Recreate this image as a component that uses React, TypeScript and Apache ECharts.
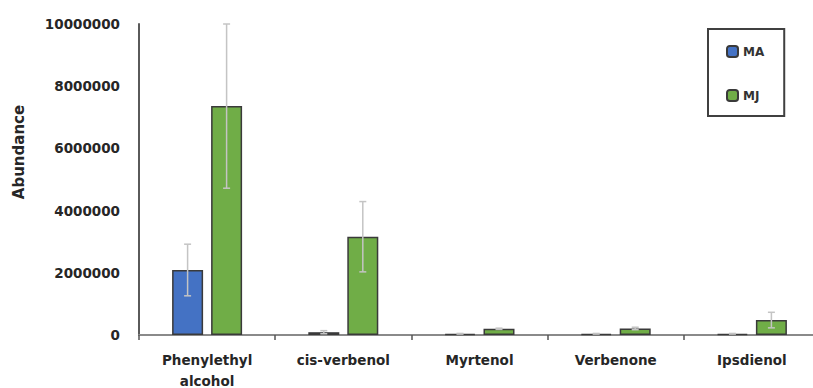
import React, { useEffect, useRef } from "react";
import * as echarts from "echarts";

const categories = ["Phenylethyl alcohol", "cis-verbenol", "Myrtenol", "Verbenone", "Ipsdienol"];
const maValues = [2090000, 90000, 40000, 40000, 40000];
const maErrors = [830000, 50000, 10000, 10000, 10000];
const mjValues = [7360000, 3160000, 200000, 210000, 480000];
const mjErrors = [2640000, 1130000, 20000, 40000, 250000];
const yTicks = { min: 0, max: 10000000, interval: 2000000 };
const seriesNames = ["MA", "MJ"];

const FONT = "DejaVu Sans";
const BAR_W = 31;
const BAR_GAP = 8;

export default function App() {
  const ref = useRef<HTMLDivElement>(null);
  useEffect(() => {
    const chart = echarts.init(ref.current!, null, { renderer: "svg" });
    const offsets = [-(BAR_W + BAR_GAP) / 2, (BAR_W + BAR_GAP) / 2];
    const errSeries = (vals: number[], errs: number[], idx: number) => ({
      type: "custom",
      silent: true,
      z: 5,
      data: vals.map((v, i) => [i, v, errs[i]]),
      renderItem: (params: any, api: any) => {
        const i = api.value(0);
        const v = api.value(1);
        const e = api.value(2);
        const top = api.coord([i, v + e]);
        const bot = api.coord([i, Math.max(0, v - e)]);
        const x = top[0] + offsets[idx];
        const cap = 3.5;
        const style = { stroke: "#c4c4c4", lineWidth: 1.5 };
        return {
          type: "group",
          children: [
            { type: "line", shape: { x1: x, y1: top[1], x2: x, y2: bot[1] }, style },
            { type: "line", shape: { x1: x - cap, y1: top[1], x2: x + cap, y2: top[1] }, style },
            { type: "line", shape: { x1: x - cap, y1: bot[1], x2: x + cap, y2: bot[1] }, style },
          ],
        };
      },
    });
    chart.setOption({
      animation: false,
      backgroundColor: "#ffffff",
      textStyle: { fontFamily: FONT },
      grid: { left: 139, right: -7, top: 24, bottom: 53, outerBoundsMode: "none", containLabel: false },
      legend: {
        data: seriesNames,
        orient: "vertical",
        left: 708,
        top: 29,
        itemWidth: 11,
        itemHeight: 11,
        itemGap: 31,
        padding: [16, 20, 14, 18],
        borderColor: "#404040",
        borderWidth: 2,
        textStyle: { fontFamily: FONT, fontWeight: "bold", fontSize: 12, color: "#333" },
      },
      graphic: [
        {
          type: "text",
          x: 19,
          y: 152,
          rotation: Math.PI / 2,
          style: {
            text: "Abundance",
            fontFamily: FONT,
            fontWeight: "bold",
            fontSize: 15,
            fill: "#262626",
            align: "center",
            verticalAlign: "middle",
          },
        },
      ],
      xAxis: {
        type: "category",
        data: categories,
        axisLine: { lineStyle: { color: "#8a8a8a", width: 2 } },
        axisTick: { show: true, length: 5, lineStyle: { color: "#555", width: 1.5 } },
        axisLabel: {
          margin: 14,
          fontFamily: FONT,
          fontWeight: "bold",
          fontSize: 13.5,
          color: "#262626",
          lineHeight: 21,
          formatter: (v: string) => v.replace(" ", "\n"),
        },
      },
      yAxis: {
        type: "value",
        min: yTicks.min,
        max: yTicks.max,
        interval: yTicks.interval,
        splitLine: { show: false },
        axisLine: { show: true, lineStyle: { color: "#5a5a5a", width: 2 } },
        axisTick: { show: false },
        axisLabel: {
          margin: 19,
          fontFamily: FONT,
          fontWeight: "bold",
          fontSize: 13.5,
          color: "#262626",
          formatter: (v: number) => String(v),
        },
      },
      series: [
        {
          name: seriesNames[0],
          type: "bar",
          data: maValues,
          barWidth: BAR_W,
          barGap: `${(BAR_GAP / BAR_W) * 100}%`,
          itemStyle: { color: "#4472c4", borderColor: "#3a3a3a", borderWidth: 1.5 },
        },
        {
          name: seriesNames[1],
          type: "bar",
          data: mjValues,
          barWidth: BAR_W,
          itemStyle: { color: "#70ad47", borderColor: "#3a3a3a", borderWidth: 1.5 },
        },
        errSeries(maValues, maErrors, 0),
        errSeries(mjValues, mjErrors, 1),
      ],
    });
    return () => chart.dispose();
  }, []);
  return (
    <div
      ref={ref}
      style={{ position: "absolute", left: 0, top: 0, width: 813, height: 388 }}
    />
  );
}
